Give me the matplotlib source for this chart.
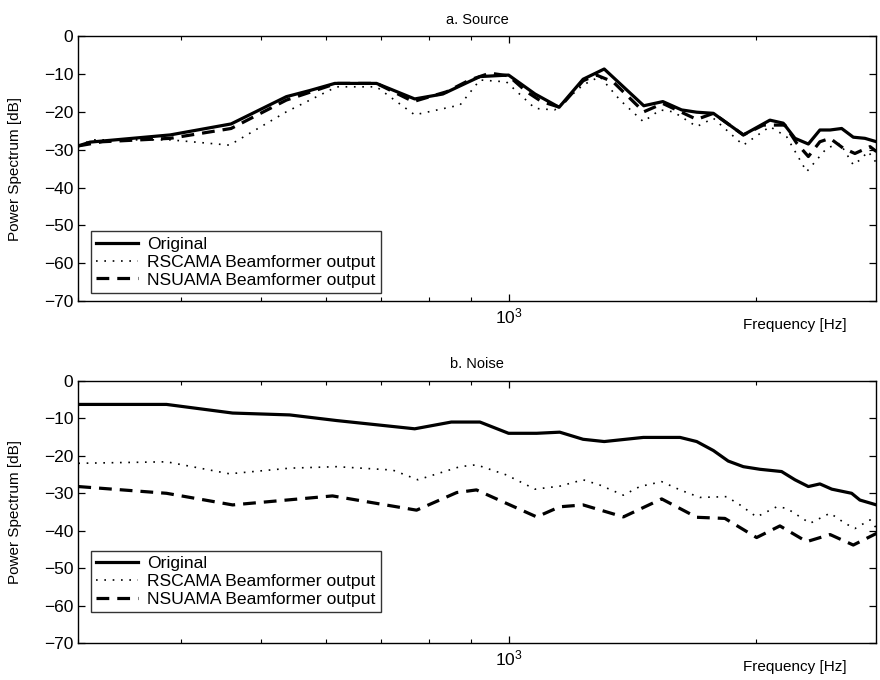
import numpy as np
import matplotlib
matplotlib.use("Agg")
import matplotlib.pyplot as plt
from matplotlib.ticker import LogLocator, NullFormatter, LogFormatterSciNotation

plt.rcParams['font.family'] = ['Liberation Sans', 'DejaVu Sans']

# ---- a. Source ----
src_orig_f = [300, 310, 388, 460, 537, 573, 615, 691, 769, 832, 923, 1000, 1077, 1152,
              1232, 1307, 1460, 1540, 1623, 1693, 1774, 1929, 2078, 2157, 2229, 2314,
              2390, 2459, 2540, 2624, 2711, 2800]
src_orig_db = [-29.0, -28.0, -26.1, -23.2, -16.0, -14.4, -12.5, -12.5, -16.6, -15.3, -10.7,
               -10.3, -15.3, -18.8, -11.4, -8.7, -18.4, -17.3, -19.5, -20.1, -20.4, -26.1,
               -22.2, -23.0, -27.0, -28.5, -24.8, -24.8, -24.4, -26.7, -27.0, -27.9]

src_rsc_f = [300, 313, 388, 458, 537, 618, 691, 769, 873, 923, 994, 1077, 1138, 1232, 1291,
             1366, 1458, 1528, 1586, 1693, 1774, 1929, 2078, 2178, 2303, 2436, 2528, 2624,
             2673, 2736, 2800]
src_rsc_db = [-28.8, -27.4, -27.4, -28.8, -20.0, -13.4, -13.4, -20.8, -18.2, -11.6, -12.1,
              -19.1, -19.5, -12.9, -10.7, -16.9, -22.6, -19.5, -20.0, -23.9, -21.7, -28.8,
              -23.9, -26.6, -35.8, -29.6, -28.3, -34.0, -32.7, -30.5, -33.5]

src_nsu_f = [300, 321, 388, 460, 537, 618, 691, 766, 841, 897, 949, 1000, 1052, 1097, 1154,
             1232, 1279, 1340, 1460, 1540, 1693, 1774, 1929, 2040, 2167, 2240, 2314, 2390,
             2459, 2551, 2636, 2750, 2800]
src_nsu_db = [-29.0, -27.9, -27.0, -24.4, -16.9, -12.5, -12.5, -17.3, -14.7, -11.6, -9.8,
              -10.5, -14.7, -17.3, -18.8, -11.8, -10.3, -12.1, -20.0, -17.8, -22.0, -20.4,
              -26.1, -23.5, -23.5, -28.3, -31.8, -27.9, -27.0, -29.6, -31.0, -29.2, -30.5]

# ---- b. Noise ----
noi_orig_f = [300, 384, 462, 542, 618, 769, 852, 923, 1000, 1082, 1154, 1232, 1307, 1458,
              1616, 1693, 1774, 1849, 1929, 2021, 2147, 2229, 2314, 2390, 2471, 2612, 2673, 2800]
noi_orig_db = [-6.3, -6.3, -8.6, -9.1, -10.6, -12.8, -11.0, -11.0, -14.0, -14.0, -13.7,
               -15.6, -16.2, -15.1, -15.1, -16.2, -18.6, -21.4, -22.9, -23.6, -24.2, -26.4,
               -28.2, -27.5, -28.9, -30.0, -31.8, -33.1]

noi_rsc_f = [300, 384, 458, 542, 618, 723, 776, 873, 914, 994, 1077, 1154, 1232, 1291, 1379,
             1444, 1535, 1616, 1708, 1841, 1911, 2002, 2118, 2178, 2325, 2459, 2564, 2636,
             2750, 2800]
noi_rsc_db = [-22.0, -21.6, -24.8, -23.3, -22.9, -23.8, -26.4, -22.9, -22.4, -25.1, -28.9,
              -28.1, -26.4, -27.8, -30.5, -28.2, -26.9, -29.1, -31.1, -30.9, -33.1, -36.3,
              -33.6, -34.0, -38.0, -35.3, -38.0, -39.4, -37.1, -39.3]

noi_nsu_f = [300, 384, 462, 611, 773, 865, 914, 1082, 1154, 1232, 1379, 1535, 1693, 1832,
             2002, 2137, 2303, 2459, 2624, 2800]
noi_nsu_db = [-28.2, -30.0, -33.1, -30.7, -34.5, -29.8, -29.1, -36.3, -33.6, -33.1, -36.3,
              -31.5, -36.4, -36.7, -41.8, -38.7, -42.9, -41.0, -43.8, -40.7]

labels = ['Original', 'RSCAMA Beamformer output', 'NSUAMA Beamformer output']
titles = ['a. Source', 'b. Noise']
y_ticks = [0, -10, -20, -30, -40, -50, -60, -70]

fig = plt.figure(figsize=(8.8, 6.8), dpi=100)
ax1 = fig.add_axes([0.089, 0.557, 0.907, 0.390])
ax2 = fig.add_axes([0.089, 0.054, 0.907, 0.386])

panels = [
    (ax1, (src_orig_f, src_orig_db), (src_rsc_f, src_rsc_db), (src_nsu_f, src_nsu_db), 0.032),
    (ax2, (noi_orig_f, noi_orig_db), (noi_rsc_f, noi_rsc_db), (noi_nsu_f, noi_nsu_db), 0.118),
]

for (ax, orig, rsc, nsu, leg_y), title in zip(panels, titles):
    ax.plot(orig[0], orig[1], color='black', lw=2.3, label=labels[0])
    ax.plot(rsc[0], rsc[1], color='black', lw=1.2, linestyle=(0, (1, 4)), label=labels[1])
    ax.plot(nsu[0], nsu[1], color='black', lw=2.3, linestyle=(0, (4, 2.5)), label=labels[2])

    ax.set_xscale('log')
    ax.set_xlim(300, 2800)
    ax.set_ylim(-70, 0)
    ax.set_yticks(y_ticks)
    ax.xaxis.set_major_locator(LogLocator(base=10))
    ax.xaxis.set_major_formatter(LogFormatterSciNotation())
    ax.xaxis.set_minor_locator(LogLocator(base=10, subs=np.arange(2, 10)))
    ax.xaxis.set_minor_formatter(NullFormatter())
    ax.tick_params(which='both', direction='in', top=True, right=True, labelsize=12.5)
    ax.tick_params(which='major', length=5, width=0.9)
    ax.tick_params(which='minor', length=3, width=0.8)
    for sp in ax.spines.values():
        sp.set_linewidth(1.0)

    ax.set_title(title, fontsize=10.5, pad=9)
    ax.set_ylabel('Power Spectrum [dB]', fontsize=11)
    ax.yaxis.set_label_coords(-0.07, 0.5)
    ax.set_xlabel('Frequency [Hz]', fontsize=11, ha='right', va='center')
    ax.xaxis.set_label_coords(0.963, -0.09)

    leg = ax.legend(loc='lower left', bbox_to_anchor=(0.016, leg_y), fontsize=12.6,
                    frameon=True, fancybox=False, borderpad=0.3, labelspacing=0.15,
                    handlelength=2.4, handletextpad=0.5, borderaxespad=0)
    leg.get_frame().set_edgecolor('black')
    leg.get_frame().set_linewidth(1.0)

fig.savefig('out.png', dpi=100)
